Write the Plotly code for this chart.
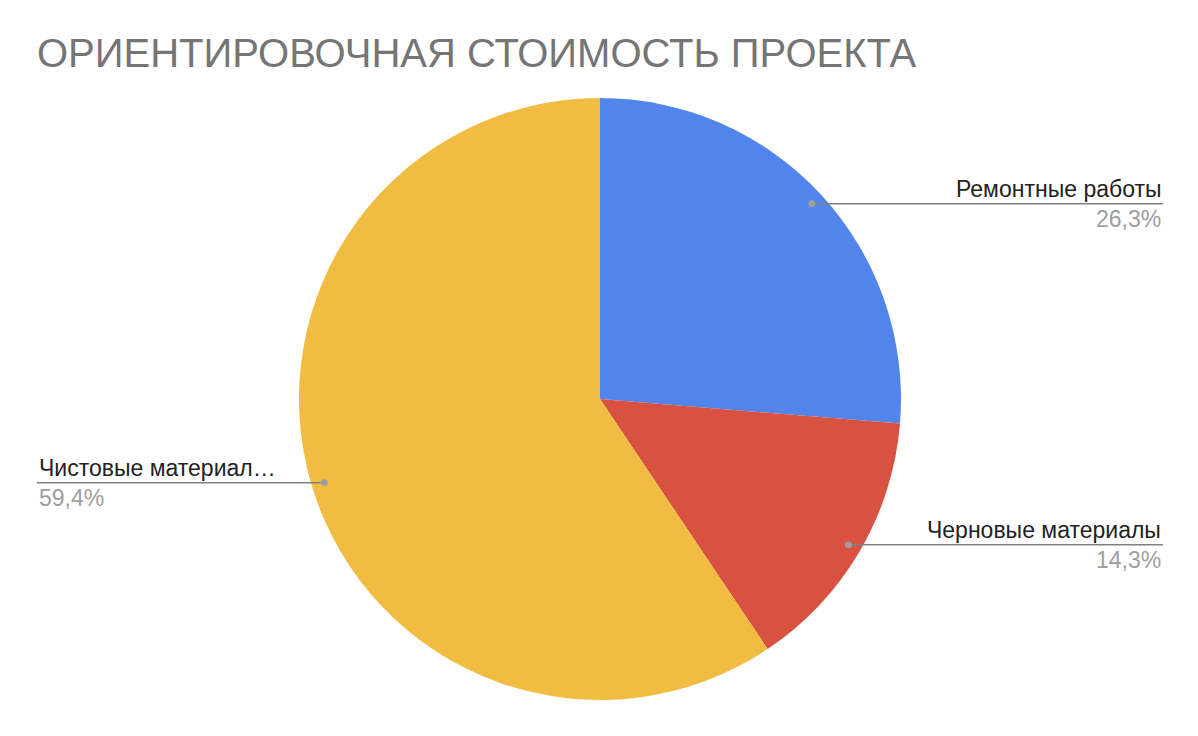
import math
import plotly.graph_objects as go

TITLE = "ОРИЕНТИРОВОЧНАЯ СТОИМОСТЬ ПРОЕКТА"
labels = ["Ремонтные работы", "Черновые материалы", "Чистовые материалы"]
short_labels = ["Ремонтные работы", "Черновые материалы", "Чистовые материал…"]
values = [26.3, 14.3, 59.4]
colors = ["#5285EC", "#D95140", "#F0BD42"]

W, H = 1198, 736
OFF = 8  # page body margin compensation
M_T, M_B = 98 - OFF, 36 + OFF
R = (H - M_T - M_B) / 2
CX, CY = 600 - OFF, M_T + R
LINE_RIGHT, LINE_LEFT = 1163 - OFF, 37 - OFF


def px_to_paper(x, y):
    return x / W, (H - M_B - y) / (H - M_T - M_B)


fig = go.Figure(go.Pie(
    labels=labels, values=values, sort=False, direction="clockwise",
    marker=dict(colors=colors, line=dict(width=0)),
    textinfo="none", showlegend=False,
    domain=dict(x=[0, 2 * CX / W], y=[0, 1]),
))

shapes, annots = [], []
total = sum(values)
cum = 0
for lab, v in zip(short_labels, values):
    mid = (cum + v / 2) / total * 2 * math.pi
    cum += v
    dx, dy = CX + 0.957 * R * math.sin(mid), CY - 0.957 * R * math.cos(mid)
    right = math.sin(mid) > 0
    end = LINE_RIGHT if right else LINE_LEFT
    x0, y0 = px_to_paper(dx, dy)
    x1, _ = px_to_paper(end, dy)
    shapes.append(dict(type="line", xref="paper", yref="paper", x0=x0, x1=x1, y0=y0, y1=y0,
                       line=dict(color="#808080", width=1.5)))
    shapes.append(dict(type="circle", xref="paper", yref="paper", xsizemode="pixel", ysizemode="pixel",
                       xanchor=x0, yanchor=y0, x0=-3.5, x1=3.5, y0=-3.5, y1=3.5,
                       fillcolor="#9e9e9e", line=dict(width=0)))
    anchor = "right" if right else "left"
    annots.append(dict(xref="paper", yref="paper", x=x1, y=y0, text=lab, showarrow=False,
                       xanchor=anchor, yanchor="bottom", yshift=0,
                       font=dict(size=23, color="#222222")))
    annots.append(dict(xref="paper", yref="paper", x=x1, y=y0, text=f"{v:.1f}%".replace(".", ","),
                       showarrow=False, xanchor=anchor, yanchor="top", yshift=0,
                       font=dict(size=23, color="#9e9e9e")))

fig.update_layout(
    width=W, height=H,
    title=dict(text=TITLE, x=(37 - OFF) / W, xanchor="left", xref="container",
               y=1 - (53 - OFF) / H, yanchor="middle", yref="container",
               font=dict(size=40, color="#757575", family="Liberation Sans Narrow, Liberation Sans, Arial")),
    font=dict(family="Liberation Sans, Arial, sans-serif"),
    margin=dict(l=0, r=0, t=M_T, b=M_B),
    paper_bgcolor="white", plot_bgcolor="white",
    shapes=shapes, annotations=annots,
)

fig.write_html("out.html")
